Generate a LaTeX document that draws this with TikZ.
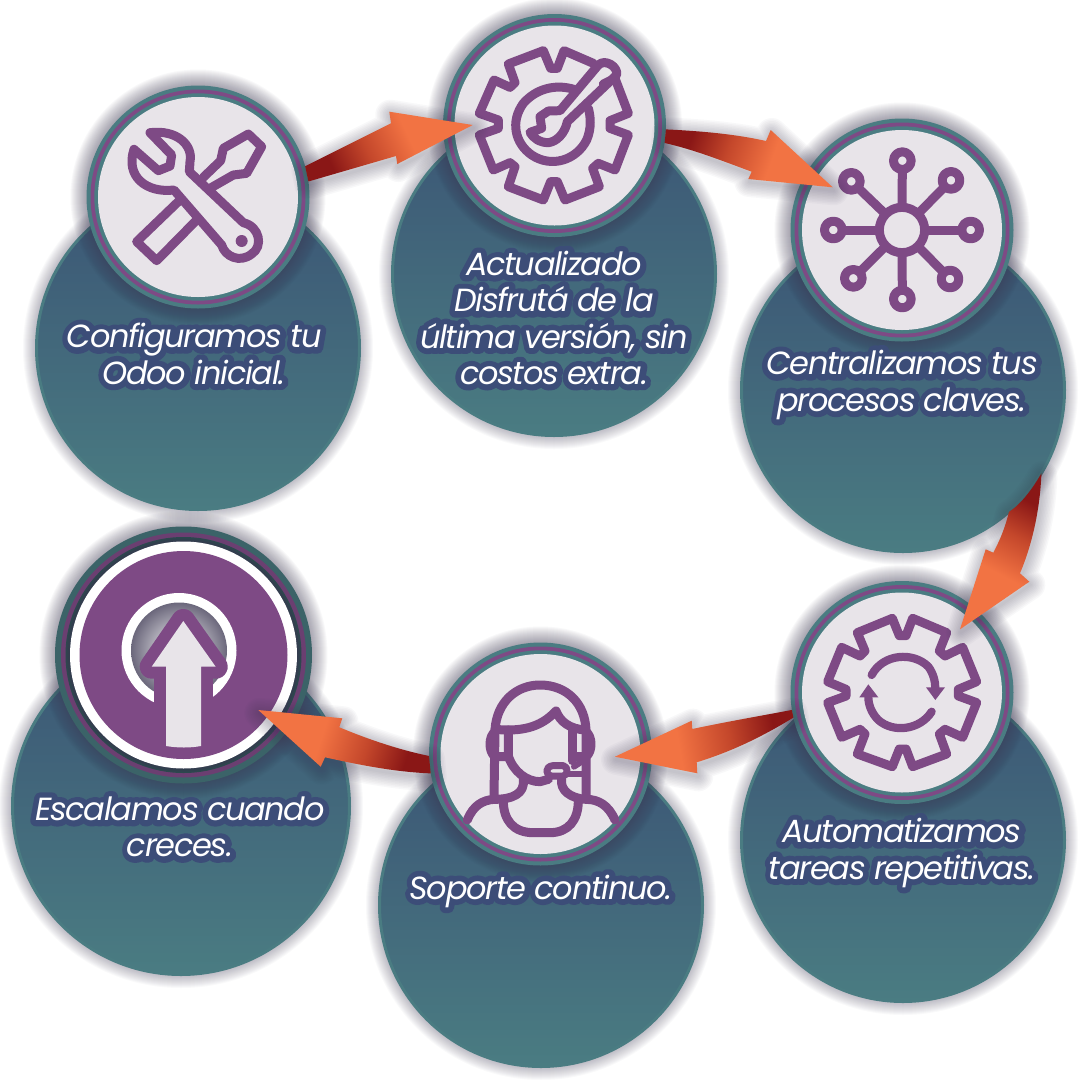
\documentclass[tikz,border=0pt]{standalone}
\usepackage{fontspec}
\setmainfont{Poppins}
\newfontfamily\halofont[UprightFont=* Italic,FakeBold=36,LetterSpace=-4]{Poppins}
\newfontfamily\facefont[UprightFont=* Italic,LetterSpace=-4]{Poppins}
\definecolor{tealc}{HTML}{4A7C82}
\definecolor{navyc}{HTML}{3B5575}
\definecolor{halo}{HTML}{3C4D78}
\definecolor{purc}{HTML}{7E4A85}
\definecolor{palec}{HTML}{E8E4E9}
\definecolor{shc}{HTML}{3A3550}
\definecolor{dk}{HTML}{8A1716}
\definecolor{mdc}{HTML}{C4472B}
\definecolor{orc}{HTML}{F27343}
\pgfdeclarehorizontalshading{arrowgrad}{100bp}{color(0bp)=(dk);color(28bp)=(dk);color(42bp)=(mdc);color(58bp)=(orc);color(100bp)=(orc)}
\tikzset{
  bigc/.style={circle,draw=tealc,line width=3pt,outer sep=0pt,inner sep=0pt,minimum size=323pt,top color=navyc,bottom color=tealc},
  smallc/.style={circle,fill=tealc,outer sep=0pt,inner sep=0pt,minimum size=223pt},
  ic/.style={draw=purc,line width=9pt,line join=round,line cap=round},
  lab/.style={align=center,inner sep=0pt,text=white,font=\facefont\fontsize{32}{36.3}\selectfont},
  halolab/.style={align=center,inner sep=0pt,text=halo,font=\halofont\fontsize{32}{36.3}\selectfont},
}
\newcommand\softcirc[4]{\foreach \i in {1,...,#4}{\fill[shc,opacity=0.028] (#1,#2) circle ({#3+\i});}}
\newcommand\bigdisc[4]{\softcirc{#2}{#3}{#4}{12}\node[bigc,minimum size={2*#4-3}] (#1) at (#2,#3) {};}
\newcommand\smalldisc[3]{\foreach \i in {1,...,16}{\fill[shc,opacity=0.03] (#2,#3) circle ({111.5+\i});}
  \node[smallc] (#1) at (#2,#3) {};
  \fill[purc] (#1.center) circle (107.5);
  \fill[tealc] (#1.center) circle (103.7);
  \fill[palec] (#1.center) circle (100);}
\newcommand\arrowshape[2]{\begin{scope}[transform canvas={xshift=1pt,yshift=-3pt}]\foreach \w in {3,6,...,30}{\draw[shc,opacity=0.03,line width=\w pt,line join=round] #1;}\end{scope}
  \shade[shading=arrowgrad,shading angle=#2] #1;}
\newcommand\labeltext[4]{\node[halolab] (#1h) at (#2,#3) {\special{pdf:code 1 j}#4};\node[lab] (#1) at (#2,#3) {#4};}
\begin{document}
\begin{tikzpicture}[x=1pt,y=1pt,yscale=-1]
\useasboundingbox (0,0) rectangle (1080,1080);
\fill[white] (0,0) rectangle (1080,1080);
% big discs
\bigdisc{b1}{198}{348}{163}
\bigdisc{b2}{554}{274}{163}
\bigdisc{b3}{903}{390}{163}
\bigdisc{b4}{903}{840}{163}
\bigdisc{b5}{541}{905}{163}
\bigdisc{b6}{181}{806}{170}
% small discs
\smalldisc{s1}{198}{197}
\smalldisc{s2}{554.5}{125.5}
\smalldisc{s3}{902}{230}
\smalldisc{s4}{902}{692.5}
\smalldisc{s5}{540.5}{754}
% disc 6
\foreach \i in {1,...,16}{\fill[shc,opacity=0.03] (183.5,655) circle ({128+\i});}
\node[circle,fill=tealc!80!black,minimum size=257pt,inner sep=0pt,outer sep=0pt] (s6) at (183.5,655) {};
\fill[purc!85!black] (s6.center) circle (122.5);
\fill[tealc!60!black] (s6.center) circle (118);
\foreach \i in {1,...,4}{\fill[shc,opacity=0.2] (s6.center) circle ({113.5+\i});}
\fill[white] (s6.center) circle (113.5);
\fill[purc] (s6.center) circle (104);
% icon 6
\fill[white] (179,650.5) circle (57.5);
\shade[inner color=white,outer color=shc!75!white] (179,650.5) circle (48);
\fill[purc] (154,672) rectangle (212.7,750);
\fill[purc,draw=purc,line width=24pt,line join=round] (183.3,621) -- (151.7,666.7) -- (215.7,666.7) -- cycle;
\fill[palec] (183.3,621) -- (151.7,666.7) -- (166,666.7) -- (166,746) .. controls (178,748) and (190,748) .. (201,746) -- (201,666.7) -- (215.7,666.7) -- cycle;
% icon 1
\begin{scope}[shift={(30,90)},scale=0.33333]
\draw[ic] (360,128) .. controls (440,118) and (490,165) .. (480,215) -- (478,245) -- (640,398) .. controls (690,410) and (700,470) .. (665,492) .. controls (630,520) and (585,500) .. (575,465) -- (432,300) .. controls (350,310) and (285,260) .. (312,178) -- (385,242) -- (420,228) -- (425,195) -- cycle;
\fill[purc] (635,453) circle (18);
\draw[ic] (450,330) -- (320,455) -- (380,512) -- (505,385);
\draw[ic] (520,262) -- (572,212) -- (580,175) -- (655,132) -- (695,170) -- (650,250) -- (610,255) -- (540,295);
\end{scope}
% icon 2
\begin{scope}[shift={(420,0)},scale=0.33333]
\draw[ic] (520,190) -- (432,152) -- (412,205) -- (392,205) -- (370,152) -- (265,192) -- (285,248) -- (270,262) -- (222,240) -- (178,340) -- (235,360) -- (235,385) -- (178,405) -- (220,510) -- (270,488) -- (285,500) -- (265,560) -- (370,600) -- (392,545) -- (412,545) -- (435,600) -- (538,560) -- (518,505) -- (535,490) -- (585,510) -- (625,405) -- (570,385) -- (570,362) -- (625,340) -- (585,235) -- (550,252);
\draw[ic] (462,268) .. controls (400,250) and (345,270) .. (310,310) .. controls (270,365) and (285,430) .. (335,465) .. controls (395,505) and (470,480) .. (500,420) .. controls (515,385) and (512,350) .. (505,325);
\draw[ic] (420,332) -- (535,195) .. controls (555,175) and (595,200) .. (590,225) -- (442,365) .. controls (435,400) and (410,425) .. (385,428) .. controls (360,428) and (340,415) .. (330,397) -- (365,385) -- (360,350) -- (385,333) -- cycle;
\end{scope}
% icon 3
\begin{scope}[shift={(780,110)},scale=0.33333]
\foreach \a/\b in {367/152,513/211,572/360,510/507,367/567,220/505,160/360,214/214}{
  \draw[ic,line cap=butt] (366,360) -- (\a,\b);
  \fill[palec] (\a,\b) circle (26);
  \draw[ic] (\a,\b) circle (26.5);}
\fill[palec] (366,360) circle (68);
\draw[ic] (366,360) circle (68);
\end{scope}
% icon 4
\begin{scope}[shift={(780,570)},scale=0.33333]
\draw[ic] (337,145) -- (358,197) -- (378,197) -- (398,145) -- (500,188) -- (478,243) -- (495,258) -- (548,232) -- (590,335) -- (535,358) -- (535,378) -- (590,398) -- (548,502) -- (495,478) -- (478,492) -- (500,552) -- (398,590) -- (378,537) -- (358,537) -- (337,590) -- (232,552) -- (255,492) -- (240,478) -- (185,502) -- (143,398) -- (198,378) -- (198,358) -- (143,335) -- (185,232) -- (240,258) -- (255,243) -- (232,188) -- cycle;
\draw[ic,line width=8.2pt] (275,315) .. controls (310,250) and (400,245) .. (445,290) .. controls (460,310) and (466,335) .. (466,355);
\fill[purc] (438,352) -- (495,352) -- (466,390) -- cycle;
\draw[ic,line width=8.2pt] (455,425) .. controls (420,480) and (340,490) .. (295,450) .. controls (275,430) and (265,405) .. (265,380);
\fill[purc] (238,382) -- (295,382) -- (265,343) -- cycle;
\end{scope}
% icon 5
\begin{scope}[shift={(420,630)},scale=0.33333]
\draw[ic] (222,500) -- (225,300) .. controls (230,215) and (290,165) .. (360,165) .. controls (440,165) and (495,220) .. (498,300) -- (498,505);
\draw[ic] (225,298) .. controls (300,305) and (360,295) .. (408,243) .. controls (420,275) and (450,298) .. (498,300);
\draw[ic] (225,305) .. controls (205,320) and (205,365) .. (225,380) -- (262,380);
\draw[ic] (498,305) .. controls (518,320) and (518,365) .. (498,380) -- (462,380);
\draw[ic] (265,300) -- (265,378) .. controls (280,425) and (320,455) .. (360,455) -- (385,448);
\draw[ic] (458,300) -- (458,392);
\draw[ic,line width=7pt] (398,407) -- (430,407) .. controls (445,410) and (445,435) .. (430,438) -- (395,438) .. controls (375,435) and (375,410) .. (398,407);
\draw[ic,line width=6pt] (440,432) -- (498,432);
\draw[ic,line width=6pt] (462,410) -- (485,395);
\draw[ic] (142,570) .. controls (160,525) and (190,510) .. (222,508) .. controls (280,508) and (315,490) .. (310,448);
\draw[ic] (585,570) .. controls (565,525) and (535,508) .. (498,508) .. controls (450,505) and (420,480) .. (425,448);
\draw[ic] (250,512) .. controls (250,570) and (280,608) .. (340,608) -- (390,608) .. controls (445,608) and (475,570) .. (475,512);
\end{scope}
% labels
\labeltext{t1}{194}{354}{Configuramos tu\\Odoo inicial.}
\labeltext{t2}{554}{318}{Actualizado\\Disfrutá de la\\última versión, sin\\costos extra.}
\labeltext{t3}{902}{385}{Centralizamos tus\\procesos claves.}
\labeltext{t4}{902}{853}{Automatizamos\\tareas repetitivas.}
\labeltext{t5}{541}{891}{Soporte continuo.}
\labeltext{t6}{180}{827}{Escalamos cuando\\creces.}
% arrows
\coordinate (tip1) at (472.7,125);
\coordinate (tip2) at (832.7,187.3);
\coordinate (tip3) at (960,629.3);
\coordinate (tip4) at (615,756.7);
\coordinate (tip5) at (258.3,710);
\arrowshape{(s1.16) -- (391,123.3) -- (389.3,111.7) -- (tip1) -- (397.3,164) -- (396,156) -- (s1.8.4) -- cycle}{25}
\arrowshape{(s2.-2) .. controls (700,131) and (735,134) .. (766,141) -- (770.7,130) -- (tip2) -- (748.3,179) -- (751.7,171.7) .. controls (720,160) and (695,150) .. (s2.-9.6) -- cycle}{-20}
\arrowshape{(b3.-31.4) .. controls (1040,510) and (1032,545) .. (1020,573.3) -- (1029.3,581.7) -- (tip3) -- (985.7,549.3) -- (993.3,552.7) .. controls (1000,540) and (1005,528) .. (b3.-49.7) .. controls (1020,505) and (1032,490) .. cycle}{242}
\arrowshape{(s4.189) .. controls (760,716) and (725,722) .. (692.3,729) -- (691.7,720.7) -- (tip4) -- (697.3,773.3) -- (696.7,762.3) .. controls (730,752) and (760,738) .. (s4.193.8) -- cycle}{190}
\arrowshape{(s5.181.4) .. controls (400,750) and (370,740) .. (339.3,727.3) -- (342.3,718.3) -- (tip5) -- (320.7,766.7) -- (325,757.3) .. controls (360,765) and (395,772) .. (s5.190.8) -- cycle}{162}
\end{tikzpicture}
\end{document}
